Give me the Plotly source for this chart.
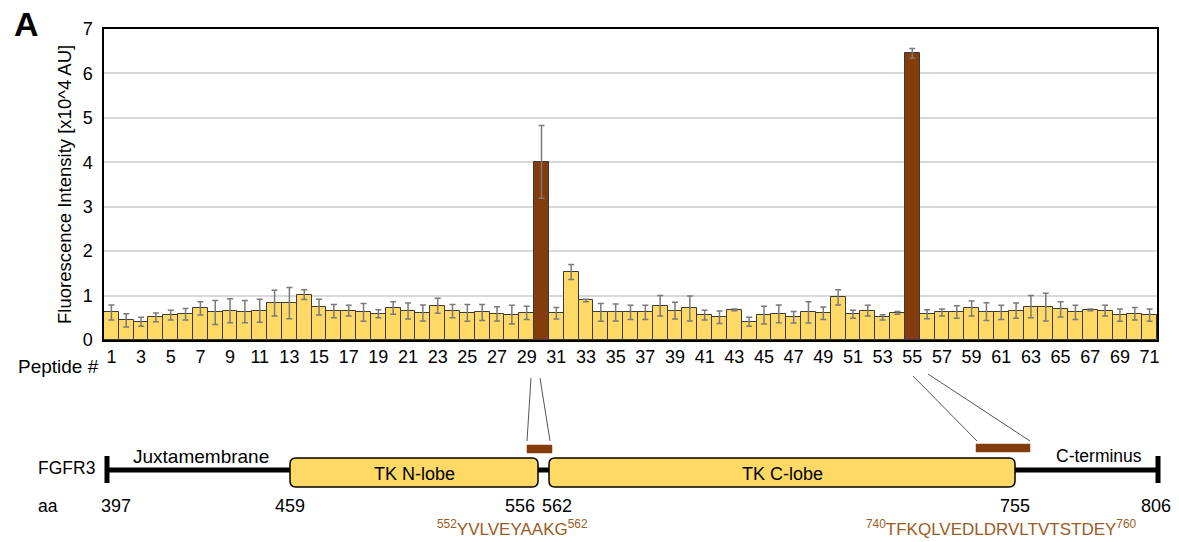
import plotly.graph_objects as go

# ---------------- data ----------------
peptides = list(range(1, 72))
intensity = [0.62, 0.44, 0.41, 0.51, 0.56, 0.58, 0.71, 0.62, 0.66, 0.64,
             0.66, 0.83, 0.83, 1.02, 0.74, 0.65, 0.66, 0.62, 0.59, 0.72,
             0.65, 0.61, 0.77, 0.65, 0.61, 0.62, 0.59, 0.57, 0.61, 4.01,
             0.60, 1.53, 0.89, 0.62, 0.62, 0.62, 0.62, 0.77, 0.66, 0.71,
             0.56, 0.51, 0.68, 0.41, 0.56, 0.59, 0.51, 0.62, 0.60, 0.96,
             0.58, 0.66, 0.51, 0.61, 6.45, 0.58, 0.62, 0.63, 0.71, 0.64,
             0.62, 0.66, 0.75, 0.74, 0.69, 0.62, 0.68, 0.66, 0.56, 0.59, 0.56]
errors = [0.17, 0.15, 0.10, 0.10, 0.11, 0.13, 0.15, 0.27, 0.27, 0.25,
          0.26, 0.29, 0.35, 0.11, 0.18, 0.15, 0.12, 0.20, 0.09, 0.14,
          0.18, 0.18, 0.17, 0.15, 0.19, 0.18, 0.16, 0.21, 0.15, 0.82,
          0.13, 0.17, 0.03, 0.20, 0.19, 0.16, 0.16, 0.23, 0.19, 0.28,
          0.11, 0.14, 0.02, 0.10, 0.20, 0.20, 0.13, 0.24, 0.14, 0.17,
          0.09, 0.12, 0.06, 0.03, 0.11, 0.10, 0.08, 0.14, 0.17, 0.20,
          0.16, 0.17, 0.25, 0.31, 0.17, 0.16, 0.02, 0.12, 0.14, 0.14, 0.14]
hits = [30, 55]
x_tick_vals = list(range(1, 72, 2))
x_tick_text = [str(v) for v in x_tick_vals]
y_tick_vals = [0, 1, 2, 3, 4, 5, 6, 7]

# schematic (FGFR3 intracellular region)
aa_labels = ["397", "459", "556", "562", "755", "806"]
domain_names = ["TK N-lobe", "TK C-lobe"]
region_names = ["Juxtamembrane", "C-terminus"]
seq1 = "<sup>552</sup>YVLVEYAAKG<sup>562</sup>"
seq2 = "<sup>740</sup>TFKQLVEDLDRVLTVTSTDEY<sup>760</sup>"

# ---------------- styles ----------------
W, H = 1179, 542
YELLOW = "#FFD966"
BROWN = "#843C0C"
FONT = "Liberation Sans, Arial, sans-serif"

colors = [BROWN if p in hits else YELLOW for p in peptides]

fig = go.Figure()
fig.add_trace(go.Bar(
    x=peptides, y=intensity, width=1.0,
    marker=dict(color=colors, line=dict(color="#3a3a3a", width=1)),
    error_y=dict(type="data", array=errors, color="#7a7a7a", thickness=1.5, width=3),
    showlegend=False, hoverinfo="x+y",
))

# plot-area placement (pixels)
px_l, px_r, px_t, px_b = 104, 1157, 29, 340
fig.update_layout(
    width=W, height=H,
    margin=dict(l=0, r=0, t=0, b=0),
    paper_bgcolor="white", plot_bgcolor="rgba(0,0,0,0)",
    font=dict(family=FONT, color="#000000"),
    bargap=0,
    xaxis=dict(domain=[px_l / W, px_r / W], range=[0.5, 71.5],
               tickvals=x_tick_vals, ticktext=x_tick_text,
               tickfont=dict(size=18), showgrid=False, zeroline=False,
               showline=True, mirror=True, linecolor="#000000", linewidth=1.5,
               ticks="", automargin=False, anchor="y", fixedrange=True),
    yaxis=dict(domain=[1 - px_b / H, 1 - px_t / H], range=[0, 7],
               tickvals=y_tick_vals, tickfont=dict(size=18), ticklabelstandoff=6,
               showgrid=True, gridcolor="#d9d9d9", gridwidth=1.5, zeroline=False,
               showline=True, mirror=True, linecolor="#000000", linewidth=1.5,
               ticks="", automargin=False, anchor="x", fixedrange=True),
    xaxis2=dict(domain=[0, 1], range=[0, W], visible=False, anchor="y2", fixedrange=True),
    yaxis2=dict(domain=[0, 1], range=[H, 0], visible=False, anchor="x2", fixedrange=True),
)
# invisible trace to anchor the schematic axes
fig.add_trace(go.Scatter(x=[0, W], y=[0, H], xaxis="x2", yaxis="y2", mode="markers",
                         marker=dict(opacity=0), showlegend=False, hoverinfo="skip"))

shapes = []
ann = []

def line(x0, y0, x1, y1, color="#000000", width=1):
    shapes.append(dict(type="line", xref="x2", yref="y2", x0=x0, y0=y0, x1=x1, y1=y1,
                       line=dict(color=color, width=width), layer="above"))

def rect(x0, y0, x1, y1, fill, lc="#000000", lw=1.5):
    shapes.append(dict(type="rect", xref="x2", yref="y2", x0=x0, y0=y0, x1=x1, y1=y1,
                       fillcolor=fill, line=dict(color=lc, width=lw), layer="above"))

def rrect(x0, y0, x1, y1, r, fill):
    path = (f"M{x0+r},{y0} L{x1-r},{y0} Q{x1},{y0} {x1},{y0+r} L{x1},{y1-r} Q{x1},{y1} {x1-r},{y1} "
            f"L{x0+r},{y1} Q{x0},{y1} {x0},{y1-r} L{x0},{y0+r} Q{x0},{y0} {x0+r},{y0} Z")
    shapes.append(dict(type="path", xref="x2", yref="y2", path=path, fillcolor=fill,
                       line=dict(color="#000000", width=1.5), layer="above"))

def text(x, y, t, size=16, color="#000000", xanchor="center", bold=False, angle=0):
    ann.append(dict(xref="x2", yref="y2", x=x, y=y, text=f"<b>{t}</b>" if bold else t,
                    showarrow=False, xanchor=xanchor, yanchor="middle", textangle=angle,
                    font=dict(size=size, color=color, family=FONT)))

# schematic layout (pixel positions)
aa_x = [107, 290, 538, 549, 1015, 1158]
bb_y = 470
line(aa_x[0], bb_y, aa_x[-1], bb_y, width=5)
line(aa_x[0], 456, aa_x[0], 483, width=5)
line(aa_x[-1], 456, aa_x[-1], 483, width=5)
rrect(aa_x[1], 458, aa_x[2], 487, 6, YELLOW)
rrect(aa_x[3], 458, aa_x[4], 487, 6, YELLOW)
text((aa_x[1] + aa_x[2]) / 2, 474, domain_names[0], size=18)
text((aa_x[3] + aa_x[4]) / 2, 474, domain_names[1], size=18)
text(201, 456, region_names[0], size=19)
text(1099, 456, region_names[1], size=17.5)
text(97, 468, "FGFR3", size=17.5, xanchor="right")
text(48, 506, "aa", size=17.5)
aa_pos = [116, 290, 520, 557, 1015, 1156]
for xp, lab in zip(aa_pos, aa_labels):
    text(xp, 506, lab, size=18)

# highlighted peptide markers and connectors
rect(527, 445, 552, 453, BROWN, lc=BROWN, lw=0.5)
rect(976, 444, 1030, 452, BROWN, lc=BROWN, lw=0.5)
line(531, 378, 527, 441, color="#555555", width=1)
line(540, 378, 550, 441, color="#555555", width=1)
line(913, 376, 977, 441, color="#555555", width=1)
line(928, 374, 1030, 441, color="#555555", width=1)
text(512, 528, seq1, size=17, color="#9C5A25")
text(1001, 528, seq2, size=17, color="#9C5A25")

# chart annotations
text(58, 366, "Peptide #", size=19)
text(26, 24, "A", size=34, bold=True)
text(64, 185, "Fluorescence Intensity [x10^4 AU]", size=18.5, angle=-90)

fig.update_layout(shapes=shapes, annotations=ann)

fig.write_html("out.html", config={"displayModeBar": False},
               post_script="document.body.style.margin='0';")
